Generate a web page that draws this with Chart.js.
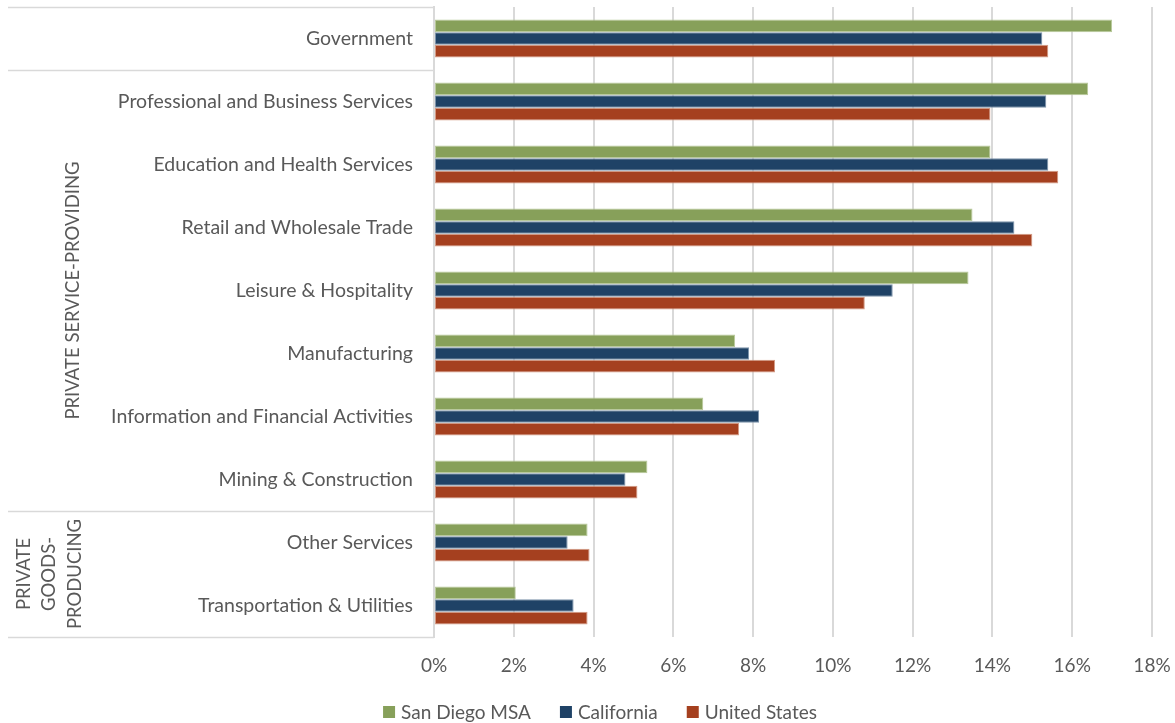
<!DOCTYPE html>
<html>
<head>
<meta charset="utf-8">
<script src="https://cdn.jsdelivr.net/npm/chart.js@4"></script>
<style>
html, body { margin: 0; padding: 0; background: #fff; }
</style>
</head>
<body>
<canvas id="industryChart" width="1175" height="723"></canvas>
<script>
// categories, top to bottom
var categories = [
    'Government',
    'Professional and Business Services',
    'Education and Health Services',
    'Retail and Wholesale Trade',
    'Leisure & Hospitality',
    'Manufacturing',
    'Information and Financial Activities',
    'Mining & Construction',
    'Other Services',
    'Transportation & Utilities'
];
// share of employment, %
var sanDiego     = [17.0, 16.4, 13.95, 13.5, 13.4, 7.55, 6.75, 5.35, 3.85, 2.05];
var california   = [15.25, 15.35, 15.4, 14.55, 11.5, 7.9, 8.15, 4.8, 3.35, 3.5];
var unitedStates = [15.4, 13.95, 15.65, 15.0, 10.8, 8.55, 7.65, 5.1, 3.9, 3.85];
var seriesNames  = ['San Diego MSA', 'California', 'United States'];
var xTicks = [0, 2, 4, 6, 8, 10, 12, 14, 16, 18];
// group labels on the left (first index, last index + 1)
var groupNames = [['PRIVATE SERVICE-PROVIDING'], ['PRIVATE', 'GOODS-', 'PRODUCING']];
var groupStart = [1, 8];
var groupEnd   = [8, 10];

var fontFamily = "Lato, 'Open Sans', sans-serif";
Chart.defaults.font.family = fontFamily;
Chart.defaults.color = '#595959';

// lines and rotated text of the second category level, plus the legend row
var groupAxis = {
    id: 'groupAxis',
    afterDraw: function(chart) {
        var ctx = chart.ctx;
        var area = chart.chartArea;
        var yScale = chart.scales.y;
        function edge(i) {
            if (i <= 0) return area.top;
            if (i >= categories.length) return area.bottom;
            return (yScale.getPixelForValue(i - 1) + yScale.getPixelForValue(i)) / 2;
        }
        ctx.save();
        ctx.strokeStyle = '#d9d9d9';
        ctx.lineWidth = 1.5;
        [0, 1, 8, 10].forEach(function(i) {
            var y = Math.round(edge(i)) + 0.5;
            ctx.beginPath();
            ctx.moveTo(8, y);
            ctx.lineTo(area.left, y);
            ctx.stroke();
        });
        ctx.fillStyle = '#595959';
        ctx.font = '18.5px ' + fontFamily;
        ctx.textAlign = 'center';
        ctx.textBaseline = 'middle';
        groupNames.forEach(function(lines, g) {
            var cy = (edge(groupStart[g]) + edge(groupEnd[g])) / 2;
            var x0 = lines.length === 1 ? 73 : 24;
            lines.forEach(function(txt, k) {
                ctx.save();
                ctx.translate(x0 + k * 25.5, cy);
                ctx.rotate(-Math.PI / 2);
                ctx.fillText(txt, 0, 0);
                ctx.restore();
            });
        });

        // legend
        ctx.font = '19px ' + fontFamily;
        ctx.textAlign = 'left';
        var sets = chart.data.datasets;
        var widths = sets.map(function(ds) { return 18 + ctx.measureText(ds.label).width; });
        var total = widths.reduce(function(a, b) { return a + b; }, 0) + 29 * (sets.length - 1);
        var x = 600 - total / 2;
        var ly = 712;
        sets.forEach(function(ds, i) {
            ctx.fillStyle = ds.backgroundColor;
            ctx.fillRect(x, ly - 6, 12, 12);
            ctx.fillStyle = '#595959';
            ctx.fillText(ds.label, x + 18, ly + 1);
            x += widths[i] + 29;
        });
        ctx.restore();
    }
};

var ctx = document.getElementById('industryChart').getContext('2d');
var industryChart = new Chart(ctx, {
    type: 'bar',
    data: {
        labels: categories,
        datasets: [
            { label: seriesNames[0], data: sanDiego, backgroundColor: '#87a05a', borderColor: '#b8c99a' },
            { label: seriesNames[1], data: california, backgroundColor: '#1f4266', borderColor: '#7d93ab' },
            { label: seriesNames[2], data: unitedStates, backgroundColor: '#a5401f', borderColor: '#d39a85' }
        ]
    },
    options: {
        indexAxis: 'y',
        responsive: false,
        animation: false,
        datasets: {
            bar: { barPercentage: 1, categoryPercentage: 0.6, borderWidth: 1, borderSkipped: false }
        },
        layout: { padding: { left: 8, top: 7, right: 23, bottom: 50 } },
        scales: {
            x: {
                min: 0,
                max: 18,
                afterBuildTicks: function(scale) {
                    scale.ticks = xTicks.map(function(v) { return { value: v }; });
                },
                afterFit: function(scale) {
                    scale.height = 36;
                    scale.paddingLeft = 0;
                    scale.paddingRight = 0;
                },
                grid: { color: '#d9d9d9', lineWidth: 2, drawTicks: false },
                border: { display: false },
                ticks: {
                    padding: 17,
                    font: { size: 19 },
                    callback: function(v) { return v + '%'; }
                }
            },
            y: {
                afterFit: function(scale) {
                    scale.width = 426;
                    scale.paddingTop = 0;
                    scale.paddingBottom = 0;
                },
                grid: { display: false, drawTicks: false },
                border: { display: true, color: '#d9d9d9', width: 2 },
                ticks: { padding: 21, font: { size: 19.5 }, autoSkip: false }
            }
        },
        plugins: {
            legend: { display: false },
            tooltip: { enabled: false }
        }
    },
    plugins: [groupAxis]
});
</script>
</body>
</html>
